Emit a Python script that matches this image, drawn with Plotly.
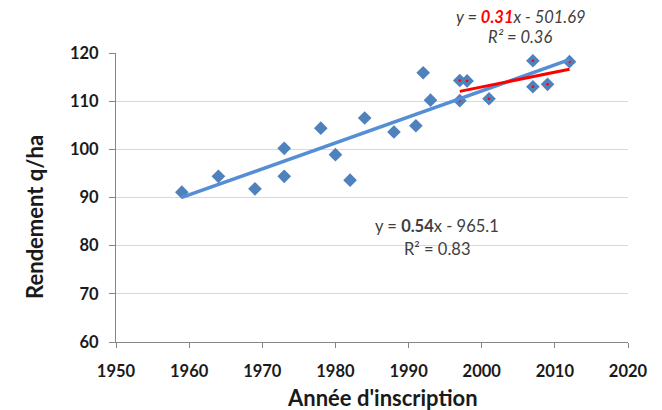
import numpy as np
import plotly.graph_objects as go

# Data
years = [1959, 1964, 1969, 1973, 1973, 1978, 1980, 1982, 1984, 1988, 1991, 1992, 1993,
         1997, 1997, 1998, 2001, 2007, 2007, 2009, 2012]
yields = [91.1, 94.4, 91.8, 100.2, 94.4, 104.4, 98.9, 93.6, 106.5, 103.6, 104.9, 115.9, 110.2,
          114.3, 110.1, 114.2, 110.5, 118.4, 113.0, 113.5, 118.2]
recent_years = [1997, 1997, 1998, 2001, 2007, 2007, 2009, 2012]
recent_yields = [114.3, 110.1, 114.2, 110.5, 118.4, 113.0, 113.5, 118.2]

x_ticks = [1950, 1960, 1970, 1980, 1990, 2000, 2010, 2020]
y_ticks = [60, 70, 80, 90, 100, 110, 120]

# Trendlines computed from data
p_all = np.polyfit(years, yields, 1)
xa = np.array([min(years), max(years)])
p_rec = np.polyfit(recent_years, recent_yields, 1)
xr = np.array([min(recent_years), max(recent_years)])

FONT = "Lato, 'Open Sans', sans-serif"
W, H = 662, 410
# plot area in window pixels: x 115.5..628.3, y 52.7..341.7
L, T = 115.5, 52.7
R = W - 628.3
B = H - 341.7
pw, ph = W - L - R, H - T - B


def px2paper(px, py):
    return (px - L) / pw, 1 - (py - T) / ph


fig = go.Figure()
fig.add_trace(go.Scatter(x=years, y=yields, mode="markers",
                         marker=dict(symbol="diamond", size=10.5, color="#4F81BD"),
                         showlegend=False, hoverinfo="skip"))
fig.add_trace(go.Scatter(x=recent_years, y=recent_yields, mode="markers",
                         marker=dict(symbol="circle", size=2.5, color="#FF0000"),
                         showlegend=False, hoverinfo="skip"))
fig.add_trace(go.Scatter(x=xa, y=np.polyval(p_all, xa), mode="lines",
                         line=dict(color="#558ED5", width=3.5),
                         showlegend=False, hoverinfo="skip"))
fig.add_trace(go.Scatter(x=xr, y=np.polyval(p_rec, xr), mode="lines",
                         line=dict(color="#FF0000", width=3),
                         showlegend=False, hoverinfo="skip"))

C = dict(xanchor="center", yanchor="middle", showarrow=False)
txt = dict(family=FONT, size=16.5, color="#404040")
fig.add_annotation(x=1993.9, y=84.1, xref="x", yref="y",
                   text="y = <b>0.54</b>x - 965.1", font=txt, **C)
fig.add_annotation(x=1993.9, y=79.3, xref="x", yref="y",
                   text="R² = 0.83", font=txt, **C)

ax_, ay_ = px2paper(521, 16.5)
fig.add_annotation(x=ax_, y=ay_, xref="paper", yref="paper",
                   text="<i>y = <b><span style='color:#FF0000'>0.31</span></b>x - 501.69</i>",
                   font=txt, **C)
ax_, ay_ = px2paper(520, 37)
fig.add_annotation(x=ax_, y=ay_, xref="paper", yref="paper",
                   text="<i>R² = 0.36</i>", font=txt, **C)

# Axis titles
ttl = dict(family=FONT, size=22, color="#1a1a1a")
ax_, ay_ = px2paper(382, 397)
fig.add_annotation(x=ax_, y=ay_, xref="paper", yref="paper",
                   text="<b>Année d'inscription</b>", font=ttl, **C)
ax_, ay_ = px2paper(34, 217)
fig.add_annotation(x=ax_, y=ay_, xref="paper", yref="paper", textangle=-90,
                   text="<b>Rendement q/ha</b>", font=ttl, **C)

tickfont = dict(family=FONT, size=16.5, color="#1a1a1a", weight="bold")
fig.update_layout(
    width=W, height=H,
    margin=dict(l=L, r=R, t=T, b=B, autoexpand=False),
    plot_bgcolor="white", paper_bgcolor="white",
    xaxis=dict(range=[1950, 2020], tickvals=x_ticks, showgrid=False,
               showline=True, linecolor="#868686", linewidth=1,
               ticks="outside", ticklen=5, tickcolor="#868686",
               tickfont=tickfont, ticklabelstandoff=9, zeroline=False),
    yaxis=dict(range=[60, 120], tickvals=y_ticks, showgrid=True,
               gridcolor="#D9D9D9", gridwidth=1,
               showline=True, linecolor="#868686", linewidth=1,
               ticks="outside", ticklen=6, tickcolor="#868686",
               tickfont=tickfont, ticklabelstandoff=7, zeroline=False),
)

fig.write_html("out.html", config={"displayModeBar": False},
               post_script="document.body.style.margin='0px';"
                           "document.body.style.overflow='hidden';")
